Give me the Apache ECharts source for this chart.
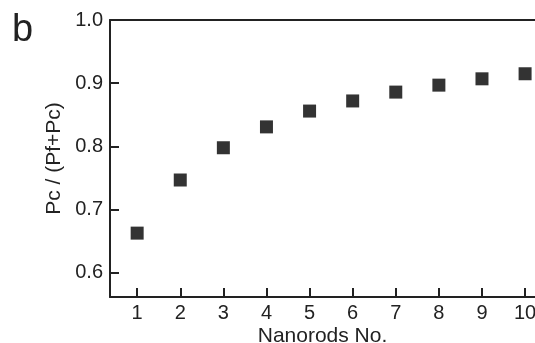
<!DOCTYPE html>
<html>
<head>
<meta charset="utf-8">
<script src="https://cdn.jsdelivr.net/npm/echarts@6/dist/echarts.min.js"></script>
<style>
  html, body { margin: 0; padding: 0; background: #fff; }
  #chart { width: 535px; height: 343px; }
</style>
</head>
<body>
<div id="chart"></div>
<script>
const nanorods = [1, 2, 3, 4, 5, 6, 7, 8, 9, 10]
const ratio = [0.663, 0.747, 0.798, 0.831, 0.856, 0.872, 0.886, 0.897, 0.907, 0.915]
const xTicks = [1, 2, 3, 4, 5, 6, 7, 8, 9, 10]
const yTicks = [0.6, 0.7, 0.8, 0.9, 1.0]

const chart = echarts.init(document.getElementById('chart'))
const font = 'Liberation Sans, Arial, sans-serif'
const ink = '#222'

chart.setOption({
  backgroundColor: '#fff',
  animation: false,
  graphic: [
    {
      type: 'text',
      left: 12,
      top: 12,
      style: { text: 'b', font: '38px ' + font, fill: ink },
    },
  ],
  grid: { left: 110, right: 0, top: 20, bottom: 46, outerBoundsMode: 'none', containLabel: false },
  xAxis: [
    {
      type: 'value',
      min: 0.37,
      max: 10.23,
      name: 'Nanorods No.',
      nameLocation: 'middle',
      nameGap: 29,
      nameMoveOverlap: false,
      nameTextStyle: { fontFamily: font, fontSize: 21, color: ink },
      axisLine: { show: true, onZero: false, lineStyle: { color: ink, width: 2 } },
      axisTick: { inside: true, length: 9, lineStyle: { color: ink, width: 2 }, customValues: xTicks },
      axisLabel: { customValues: xTicks, fontFamily: font, fontSize: 20, color: ink, margin: 6 },
      splitLine: { show: false },
    },
    {
      type: 'value',
      position: 'top',
      min: 0.37,
      max: 10.23,
      axisLine: { show: true, lineStyle: { color: ink, width: 2 } },
      axisTick: { show: false },
      axisLabel: { show: false },
      splitLine: { show: false },
    },
  ],
  yAxis: {
    type: 'value',
    min: 0.562,
    max: 1.0,
    name: 'Pc / (Pf+Pc)',
    nameLocation: 'middle',
    nameGap: 45,
    nameMoveOverlap: false,
    nameTextStyle: { fontFamily: font, fontSize: 21, color: ink },
    axisLine: { show: true, onZero: false, lineStyle: { color: ink, width: 2 } },
    axisTick: { inside: true, length: 9, lineStyle: { color: ink, width: 2 }, customValues: yTicks },
    axisLabel: {
      customValues: yTicks,
      fontFamily: font,
      fontSize: 20,
      color: ink,
      margin: 7,
      formatter: (v) => v.toFixed(1),
    },
    splitLine: { show: false },
  },
  series: [
    {
      type: 'scatter',
      symbol: 'rect',
      symbolSize: 13,
      itemStyle: { color: '#000' },
      data: nanorods.map((n, i) => [n, ratio[i]]),
    },
  ],
})
</script>
</body>
</html>
